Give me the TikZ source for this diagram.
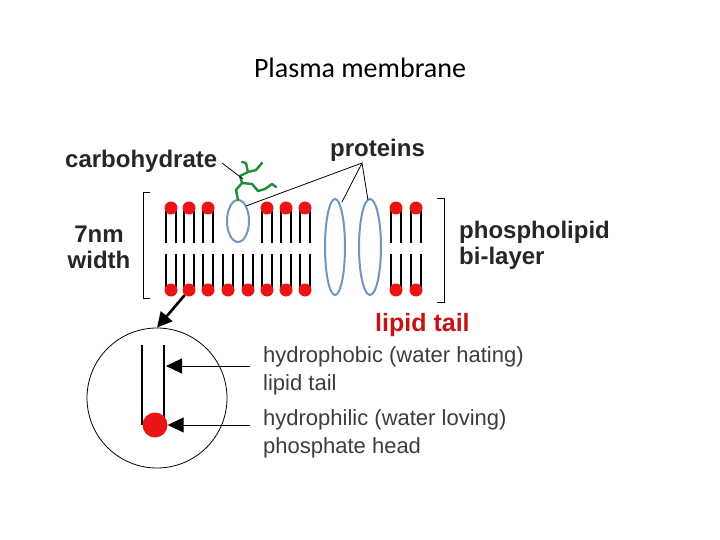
\documentclass[tikz,border=0pt]{standalone}
\usepackage{fontspec}
\setmainfont{Liberation Sans}
\newfontfamily\calfont{Carlito}
\usetikzlibrary{arrows.meta}
\definecolor{headred}{RGB}{235,20,20}
\definecolor{protblue}{RGB}{110,150,190}
\definecolor{txtgray}{RGB}{60,60,60}
\definecolor{carbgreen}{RGB}{30,140,60}
\begin{document}
\begin{tikzpicture}[x=1pt,y=-1pt,
  head/.style={fill=headred,circle,inner sep=0pt,minimum size=13pt},
  lbl/.style={font=\bfseries\fontsize{24}{26}\selectfont,text=black!85,anchor=west,align=left,inner sep=0pt},
  gl/.style={font=\fontsize{22}{25}\selectfont,text=txtgray,anchor=west,inner sep=0pt},
  tail/.style={line width=1.4pt}]
\useasboundingbox (0,0) rectangle (720,540);
\node[font=\calfont\fontsize{28}{32}\selectfont] (title) at (360,68) {Plasma membrane};
\foreach \x [count=\i] in {171,189,208,267,286,305,396,416}{
  \draw[tail] (\x-5,210) -- (\x-5,243) (\x+5,210) -- (\x+5,243);
  \node[head] (t\i) at (\x,208) {};}
\foreach \x [count=\i] in {171,189,208,228,248,267,286,305,396,416}{
  \draw[tail] (\x-5,254) -- (\x-5,288) (\x+5,254) -- (\x+5,288);
  \node[head] (b\i) at (\x,290) {};}
\draw[protblue,line width=2pt,fill=white] (238,221) ellipse (11 and 21);
\draw[protblue,line width=2pt,fill=white] (335,247) ellipse (10 and 48);
\draw[protblue,line width=2pt,fill=white] (370,247) ellipse (11 and 48);
\coordinate (p1) at (246,206);
\coordinate (p2) at (342,202);
\coordinate (p3) at (368,200);
\draw[carbgreen,line width=2.4pt,line cap=round,line join=round]
 (238,200) -- (236,190) -- (242,183) -- (240,176) -- (248,172) -- (246,163) -- (242,162)
 (248,172) -- (256,170) -- (262,163) (242,183) -- (252,184) -- (258,191) -- (265,189) -- (272,184) -- (276,187);
\draw[line width=1pt] (150,193) -- (143,193) -- (143,298) -- (150,298);
\draw[line width=1pt] (437,199) -- (444,199) -- (444,302) -- (437,302);
\node[lbl] (carb) at (65,161) {carbohydrate};
\node[lbl] (prot) at (330,150) {proteins};
\node[lbl,align=center,anchor=center] (nm) at (99,247) {7nm\\width};
\node[lbl] (pl) at (459,245) {phospholipid\\bi-layer};
\node[lbl,text=headred!85!black,font=\bfseries\fontsize{25}{28}\selectfont] (lt) at (375,325) {lipid tail};
\coordinate (cj) at (222,163);
\draw[line width=0.8pt] (cj) -- (243,179);
\coordinate (pj) at (362,163);
\draw[line width=0.8pt] (p1) -- (pj) -- (p2) (pj) -- (p3);
\node[draw,circle,minimum size=140pt,line width=0.8pt,inner sep=0pt] (zc) at (157,398) {};
\draw[-{Triangle[length=15pt,width=15pt]},line width=2.6pt] (b2) -- (zc.north);
\draw[line width=2pt] (142,345) -- (142,425) (164,345) -- (164,425);
\node[fill=headred,circle,inner sep=0pt,minimum size=25pt] (zh) at (155,425) {};
\node[gl] (h1) at (263,357) {hydrophobic (water hating)};
\node[gl] (h2) at (263,385) {lipid tail};
\node[gl] (h3) at (263,420) {hydrophilic (water loving)};
\node[gl] (h4) at (263,448) {phosphate head};
\coordinate (a1) at (250,366);
\coordinate (a2) at (250,425);
\draw[-{Triangle[length=16pt,width=15pt]},line width=1pt] (a1) -- (166,366);
\draw[-{Triangle[length=16pt,width=15pt]},line width=1pt] (a2) -- (zh.east);
\end{tikzpicture}
\end{document}
